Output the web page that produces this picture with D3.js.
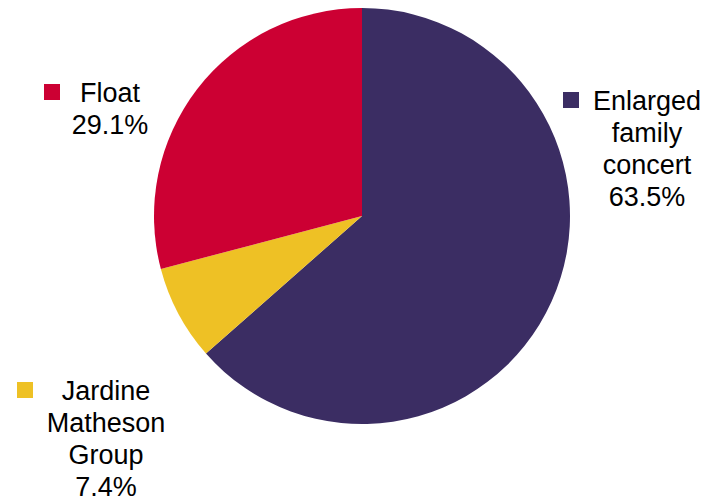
<!DOCTYPE html>
<html>
<head>
<meta charset="utf-8">
<script src="https://cdn.jsdelivr.net/npm/d3@7"></script>
<style>
  html, body { margin: 0; padding: 0; background: #fff; }
  svg { display: block; }
</style>
</head>
<body>
<svg id="chart" width="712" height="502"></svg>
<script>
// Data
const categories = ["Enlarged family concert", "Jardine Matheson Group", "Float"];
const values = [63.5, 7.4, 29.1];
const valueLabels = ["63.5%", "7.4%", "29.1%"];
const colors = ["#3B2D63", "#EEC125", "#CC0033"];

// Label text lines (category name broken into lines)
const labelLines = [["Enlarged", "family", "concert"], ["Jardine", "Matheson", "Group"], ["Float"]];

// Layout (positions only)
const W = 712, H = 502;
const cx = 362, cy = 216, R = 208;
const labelLayout = [
  { x: 647, y: 110, keyX: 563, keyY: 92 },
  { x: 106, y: 400, keyX: 17, keyY: 382 },
  { x: 110, y: 102, keyX: 44, keyY: 84 }
];
const fontSize = 27, lineH = 32, keySize = 16;

const svg = d3.select("#chart");
const data = categories.map((c, i) => ({ name: c, value: values[i], color: colors[i], label: valueLabels[i], lines: labelLines[i], layout: labelLayout[i] }));

const pie = d3.pie().value(d => d.value).sort(null).startAngle(0).endAngle(2 * Math.PI);
const arc = d3.arc().innerRadius(0).outerRadius(R);

svg.append("g")
  .attr("transform", `translate(${cx},${cy})`)
  .selectAll("path")
  .data(pie(data))
  .join("path")
  .attr("d", arc)
  .attr("fill", d => d.data.color);

const lbl = svg.append("g").selectAll("g").data(data).join("g");

lbl.append("rect")
  .attr("x", d => d.layout.keyX)
  .attr("y", d => d.layout.keyY)
  .attr("width", keySize)
  .attr("height", keySize)
  .attr("fill", d => d.color);

lbl.each(function(d) {
  const g = d3.select(this);
  const all = d.lines.concat([d.label]);
  g.selectAll("text")
    .data(all)
    .join("text")
    .attr("x", d.layout.x)
    .attr("y", (t, i) => d.layout.y + i * lineH)
    .attr("text-anchor", "middle")
    .attr("font-family", "'Liberation Sans', Arial, sans-serif")
    .attr("font-size", fontSize)
    .attr("fill", "#000")
    .text(t => t);
});
</script>
</body>
</html>
